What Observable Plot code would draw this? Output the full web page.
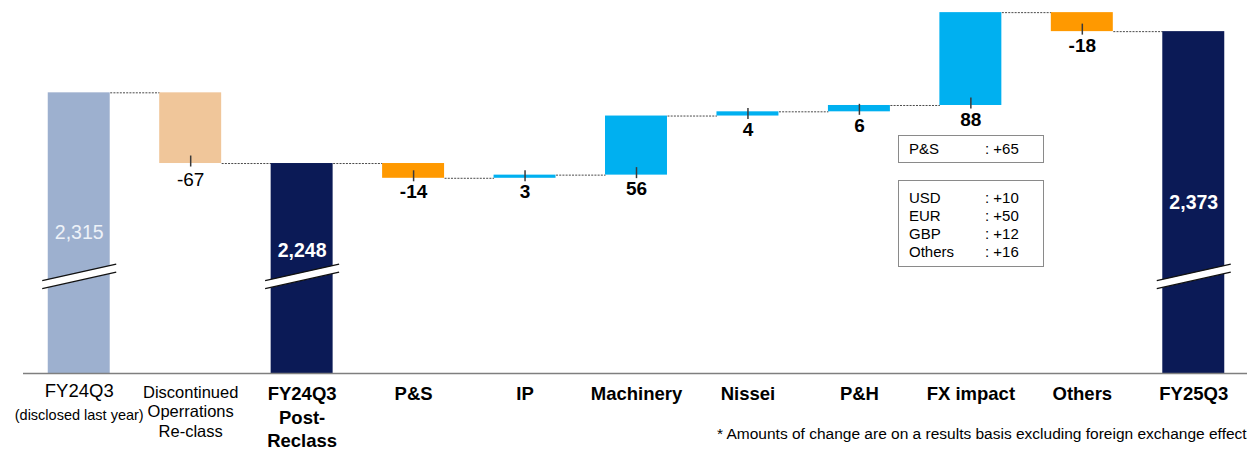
<!DOCTYPE html>
<html>
<head>
<meta charset="utf-8">
<script src="https://cdn.jsdelivr.net/npm/d3@7"></script>
<script src="https://cdn.jsdelivr.net/npm/@observablehq/plot@0.6"></script>
<style>
  body { margin: 0; background: #fff; }
  #wrap { position: relative; width: 1247px; height: 449px; overflow: hidden;
          font-family: "Liberation Sans", Arial, sans-serif; color: #000; }
  #wrap svg { position: absolute; left: 0; top: 0; }
  .note { position: absolute; box-sizing: border-box; border: 1px solid #8a8a8a; background: #fff; }
  .row { position: absolute; font-size: 15px; line-height: 18px; white-space: nowrap; }
  .foot { position: absolute; left: 717px; top: 425px; font-size: 15.5px; white-space: nowrap; }
</style>
</head>
<body>
<div id="wrap"></div>
<script>
// Bridge from FY24Q3 to FY25Q3 (one bar per step)
const categories = ["FY24Q3", "Discontinued Operrations Re-class", "FY24Q3 Post-Reclass", "P&S", "IP",
                    "Machinery", "Nissei", "P&H", "FX impact", "Others", "FY25Q3"];
const categoryLines = [
  ["FY24Q3"],
  ["Discontinued", "Operrations", "Re-class"],
  ["FY24Q3", "Post-", "Reclass"],
  ["P&S"], ["IP"], ["Machinery"], ["Nissei"], ["P&H"], ["FX impact"], ["Others"], ["FY25Q3"]
];
const categoryNote = "(disclosed last year)";
const kinds = ["prior", "reclass", "total", "delta", "delta", "delta", "delta", "delta", "delta", "delta", "total"];
const values = [2315, -67, 2248, -14, 3, 56, 4, 6, 88, -18, 2373];

// FX impact breakdown
const fxBusiness = [["P&S", 65]];
const fxCurrency = [["USD", 10], ["EUR", 50], ["GBP", 12], ["Others", 16]];
const footnote = "* Amounts of change are on a results basis excluding foreign exchange effects";

// Broken value axis: bars start at floorValue, the break is drawn at breakValue
const floorValue = 2049;
const topValue = 2402.5;
const breakValue = 2141;
const halfWidth = 0.278;

const colors = {prior: "#9DB0CF", reclass: "#F0C69A", total: "#0B1A56", up: "#00B0F0", down: "#FF9900"};

// Running levels of the waterfall
let level = 0;
const steps = values.map((v, i) => {
  const kind = kinds[i];
  let lo, hi;
  if (kind === "prior" || kind === "total") {
    lo = floorValue; hi = v; level = v;
  } else {
    const start = level;
    level = start + v;
    lo = Math.min(start, level); hi = Math.max(start, level);
  }
  const fill = kind === "delta" ? (v >= 0 ? colors.up : colors.down) : colors[kind];
  return {i, v, kind, lo, hi, level, fill, name: categories[i]};
});
const totals = steps.filter(d => d.kind === "prior" || d.kind === "total");
const changes = steps.filter(d => d.kind === "delta" || d.kind === "reclass");
const connectors = steps.slice(0, -1).map(d => ({x1: d.i + halfWidth, x2: d.i + 1 - halfWidth, y: d.level}));

// inner total labels sit mid-bar, nudged up when they would hit the break
const midOf = d => (d.lo + d.hi) / 2;
const nearBreak = d => Math.abs(midOf(d) - breakValue) < 20;

// axis-break glyph: white band between two slanted lines
const breakFill = {draw(ctx) {
  ctx.moveTo(-37, 4.3); ctx.lineTo(37, -12.3); ctx.lineTo(37, -4.3); ctx.lineTo(-37, 12.3); ctx.closePath();
}};
const breakLines = {draw(ctx) {
  ctx.moveTo(-37, 4.3); ctx.lineTo(37, -12.3);
  ctx.moveTo(-37, 12.3); ctx.lineTo(37, -4.3);
}};
const tickGlyph = {draw(ctx) { ctx.moveTo(0, -8); ctx.lineTo(0, 3); }};

const labelRows = steps.map(d => ({i: d.i, kind: d.kind, text: categoryLines[d.i].join("\n")}));
const font = "'Liberation Sans', Arial, sans-serif";

const chart = Plot.plot({
  width: 1247,
  height: 449,
  marginTop: 0,
  marginBottom: 76,
  marginLeft: 23,
  marginRight: 0,
  style: {fontFamily: font, background: "transparent", overflow: "visible"},
  x: {domain: [-0.5, 10.5], range: [23, 1249], axis: null},
  y: {domain: [floorValue, topValue], axis: null},
  marks: [
    // dotted connectors between consecutive bars
    Plot.link(connectors, {x1: "x1", x2: "x2", y1: "y", y2: "y",
      stroke: "#4a4a4a", strokeWidth: 1, strokeDasharray: "2,1.2"}),
    // bars
    Plot.rectY(steps, {x1: d => d.i - halfWidth, x2: d => d.i + halfWidth, y1: "lo", y2: "hi",
      fill: "fill"}),
    // baseline
    Plot.ruleY([floorValue], {stroke: "#7f7f7f", strokeWidth: 1.5}),
    // axis breaks on the total bars
    Plot.dot(totals, {x: "i", y: () => breakValue, symbol: breakFill, r: 10, fill: "white", stroke: "none"}),
    Plot.dot(totals, {x: "i", y: () => breakValue, symbol: breakLines, r: 10, fill: "none",
      stroke: "#111", strokeWidth: 1.3}),
    // little ticks at the lower end of each change bar
    Plot.dot(changes, {x: "i", y: "lo", symbol: tickGlyph, r: 5, fill: "none", stroke: "#3a3a3a", strokeWidth: 1.5}),
    // total values inside the bars
    Plot.text(totals.filter(d => d.kind === "prior"), {x: "i", y: midOf, text: d => d3.format(",")(d.v),
      fill: "#EEF2F8", fontSize: 19.5}),
    Plot.text(totals.filter(d => d.kind === "total"), {x: "i", y: midOf, text: d => d3.format(",")(d.v),
      dy: 0, fill: "white", fontSize: 19.5, fontWeight: "bold",
      filter: d => !nearBreak(d)}),
    Plot.text(totals.filter(d => d.kind === "total"), {x: "i", y: midOf, text: d => d3.format(",")(d.v),
      dy: -18, fill: "white", fontSize: 19.5, fontWeight: "bold",
      filter: d => nearBreak(d)}),
    // change values under each change bar
    Plot.text(changes.filter(d => d.kind === "reclass"), {x: "i", y: "lo", text: d => `${d.v}`,
      dy: 16, fill: "black", fontSize: 19}),
    Plot.text(changes.filter(d => d.kind === "delta"), {x: "i", y: "lo", text: d => `${d.v}`,
      dy: 14, fill: "black", fontSize: 19, fontWeight: "bold"}),
    // category labels
    Plot.text(labelRows.filter(d => d.kind === "prior"), {x: "i", y: () => floorValue, text: "text",
      lineAnchor: "top", dy: 10, fontSize: 18.5, fill: "black"}),
    Plot.text(labelRows.filter(d => d.kind === "prior"), {x: "i", y: () => floorValue, text: () => categoryNote,
      lineAnchor: "top", dy: 36, fontSize: 14.5, fill: "black"}),
    Plot.text(labelRows.filter(d => d.kind === "reclass"), {x: "i", y: () => floorValue, text: "text",
      lineAnchor: "top", dy: 10, fontSize: 16.5, lineHeight: 1.2, fill: "black"}),
    Plot.text(labelRows.filter(d => d.kind === "total" || d.kind === "delta"), {x: "i", y: () => floorValue,
      text: "text", lineAnchor: "top", dy: 10, fontSize: 18.5, lineHeight: 1.27, fontWeight: "bold", fill: "black"})
  ]
});

const wrap = document.getElementById("wrap");
wrap.appendChild(chart);

// FX impact breakdown boxes
function addNote(rows, left, top, width, height, padTop) {
  const box = document.createElement("div");
  box.className = "note";
  Object.assign(box.style, {left: left + "px", top: top + "px", width: width + "px", height: height + "px"});
  rows.forEach(([name, v], k) => {
    const a = document.createElement("div");
    a.className = "row";
    a.style.left = "10px"; a.style.top = (padTop + k * 18) + "px";
    a.textContent = name;
    const b = document.createElement("div");
    b.className = "row";
    b.style.left = "86px"; b.style.top = (padTop + k * 18) + "px";
    b.textContent = ": +" + v;
    box.appendChild(a); box.appendChild(b);
  });
  wrap.appendChild(box);
}
addNote(fxBusiness, 898, 135, 146, 28, 4);
addNote(fxCurrency, 898, 180, 146, 87, 8);

const foot = document.createElement("div");
foot.className = "foot";
foot.textContent = footnote;
wrap.appendChild(foot);
</script>
</body>
</html>
